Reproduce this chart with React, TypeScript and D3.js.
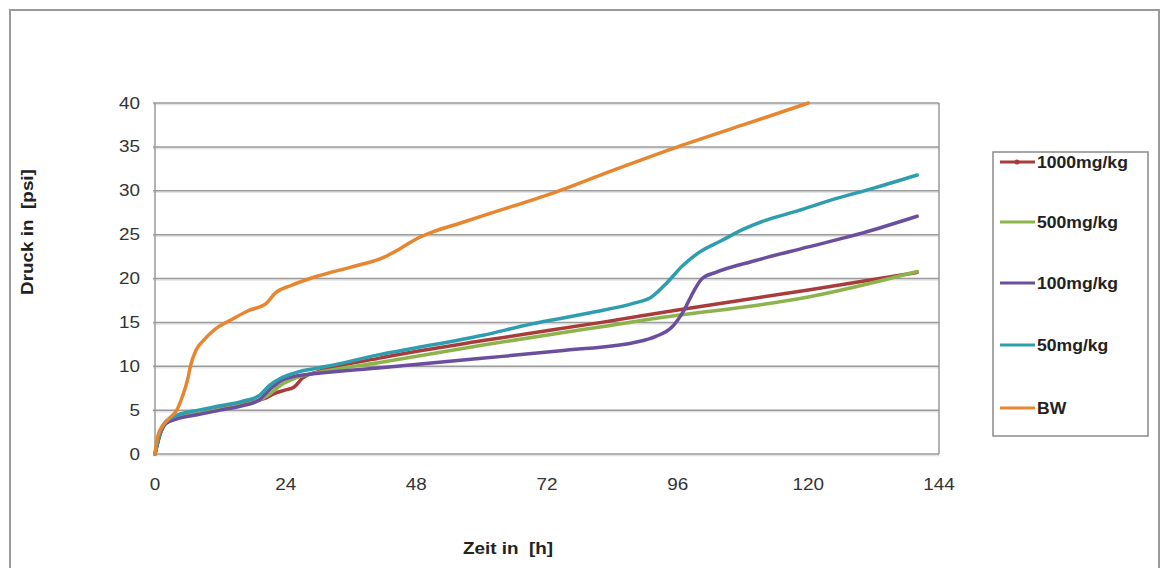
import React from "react";
import * as d3 from "d3";

const xTicks = [0, 24, 48, 72, 96, 120, 144];
const yTicks = [0, 5, 10, 15, 20, 25, 30, 35, 40];

const legendLabels = ["1000mg/kg", "500mg/kg", "100mg/kg", "50mg/kg", "BW"];
const seriesColors = ["#A83C3A", "#8DB44C", "#6B4F9E", "#2E9DB0", "#E8852F"];

const s1000: [number, number][] = [[0,0],[1,2.4],[2,3.5],[4,4.1],[8,4.6],[12,5.2],[16,5.7],[20,6.3],[22,6.9],[24,7.3],[25.5,7.6],[27,8.6],[30,9.4],[41,10.9],[60,12.9],[82,15.0],[96,16.4],[120,18.7],[140,20.7]];
const s500: [number, number][] = [[0,0],[1,2.4],[2,3.5],[4,4.1],[8,4.6],[12,5.1],[16,5.6],[19,6.1],[21,6.8],[23,7.8],[26,8.7],[30,9.3],[41,10.4],[60,12.4],[82,14.5],[96,15.8],[110,16.9],[120,17.9],[140,20.8]];
const s100: [number, number][] = [[0,0],[1,2.4],[2,3.5],[4,4.0],[8,4.5],[12,5.0],[16,5.5],[19,6.1],[21,7.3],[23,8.3],[26,8.9],[30,9.2],[41,9.8],[60,10.9],[75,11.8],[88,12.7],[92,13.4],[95,14.5],[97,16.2],[99,18.6],[100.5,20],[103,20.7],[110,22],[120,23.6],[130,25.2],[140,27.1]];
const s50: [number, number][] = [[0,0],[1,2.6],[2,3.7],[4,4.4],[8,5],[12,5.5],[16,6],[19,6.6],[21,7.8],[23,8.6],[26,9.3],[30,9.8],[34,10.3],[41,11.3],[48,12.1],[60,13.5],[69,14.8],[80,16.1],[88,17.2],[91,17.8],[94,19.5],[97,21.5],[100,23],[104,24.3],[108,25.6],[112,26.6],[118,27.7],[124,28.9],[132,30.3],[140,31.8]];
const sBW: [number, number][] = [[0,0],[0.5,2],[1.5,3.3],[2.5,4],[4,5],[5,6.5],[6,8.5],[6.5,10],[7.5,11.8],[9,13],[11,14.2],[14,15.3],[17,16.3],[20.5,17.2],[22,18.3],[25,19.2],[30,20.3],[36,21.3],[42,22.4],[45,23.4],[48,24.5],[51,25.3],[56,26.3],[64,27.9],[72,29.5],[84,32.3],[96,35],[108,37.5],[120,40]];

const seriesData = [s1000, s500, s100, s50, sBW];

export default function App() {
  const x = d3.scaleLinear().domain([0, 144]).range([155, 939]);
  const y = d3.scaleLinear().domain([0, 40]).range([454, 103]);
  const line = d3
    .line<[number, number]>()
    .x((d) => x(d[0]))
    .y((d) => y(d[1]))
    .curve(d3.curveMonotoneX);
  const font = "'Liberation Sans', Arial, sans-serif";
  const legendY = [162, 222, 283, 345, 408];
  const sx = 1.18;

  return (
    <svg
      width={1161}
      height={568}
      style={{ position: "absolute", left: 0, top: 0, background: "#fff" }}
      fontFamily={font}
    >
      <rect x={10} y={10} width={1149} height={600} fill="#fff" stroke="#9a9a9a" strokeWidth={2} />
      {yTicks.map((t) => (
        <g key={t}>
          <line x1={x(0) - 2} x2={x(144)} y1={y(t) + 1.5} y2={y(t) + 1.5} stroke="#e4e4e4" strokeWidth={1.5} />
          <line x1={x(0) - 2} x2={x(144)} y1={y(t)} y2={y(t)} stroke="#9a9a9a" strokeWidth={1.5} />
          <g transform={`translate(140,${y(t)}) scale(${sx},1)`}>
            <text x={0} y={0} dy="0.35em" textAnchor="end" fontSize={16} fill="#333">
              {t}
            </text>
          </g>
        </g>
      ))}
      <line x1={x(0)} x2={x(0)} y1={y(40)} y2={y(0)} stroke="#9a9a9a" strokeWidth={1.5} />
      <line x1={x(144)} x2={x(144)} y1={y(40)} y2={y(0)} stroke="#9a9a9a" strokeWidth={1.5} />
      {xTicks.map((t) => (
        <g key={t} transform={`translate(${x(t)},484) scale(${sx},1)`}>
          <text x={0} y={0} dy="0.35em" textAnchor="middle" fontSize={16} fill="#333">
            {t}
          </text>
        </g>
      ))}
      {seriesData.map((d, i) => (
        <path
          key={i}
          d={line(d) || ""}
          fill="none"
          stroke={seriesColors[i]}
          strokeWidth={3.5}
          strokeLinejoin="round"
          strokeLinecap="round"
        />
      ))}
      <g transform={`translate(508,548) scale(${sx},1)`}>
        <text x={0} y={0} dy="0.35em" textAnchor="middle" fontSize={16} fontWeight="bold" fill="#222" style={{ whiteSpace: "pre" }}>
          {"Zeit in  [h]"}
        </text>
      </g>
      <g transform={`translate(27,232) rotate(-90) scale(${sx},1)`}>
        <text x={0} y={0} dy="0.35em" textAnchor="middle" fontSize={16} fontWeight="bold" fill="#222" style={{ whiteSpace: "pre" }}>
          {"Druck in  [psi]"}
        </text>
      </g>
      <rect x={993} y={152} width={155} height={284} fill="#fff" stroke="#8a8a8a" strokeWidth={1.5} />
      {legendLabels.map((l, i) => (
        <g key={l}>
          <line x1={1000} x2={1035} y1={legendY[i]} y2={legendY[i]} stroke={seriesColors[i]} strokeWidth={3} />
          {i === 0 && <circle cx={1017} cy={legendY[i]} r={2.5} fill={seriesColors[i]} />}
          <g transform={`translate(1037,${legendY[i]}) scale(1.1,1)`}>
            <text x={0} y={0} dy="0.35em" fontSize={16} fontWeight="bold" fill="#222">
              {l}
            </text>
          </g>
        </g>
      ))}
    </svg>
  );
}
